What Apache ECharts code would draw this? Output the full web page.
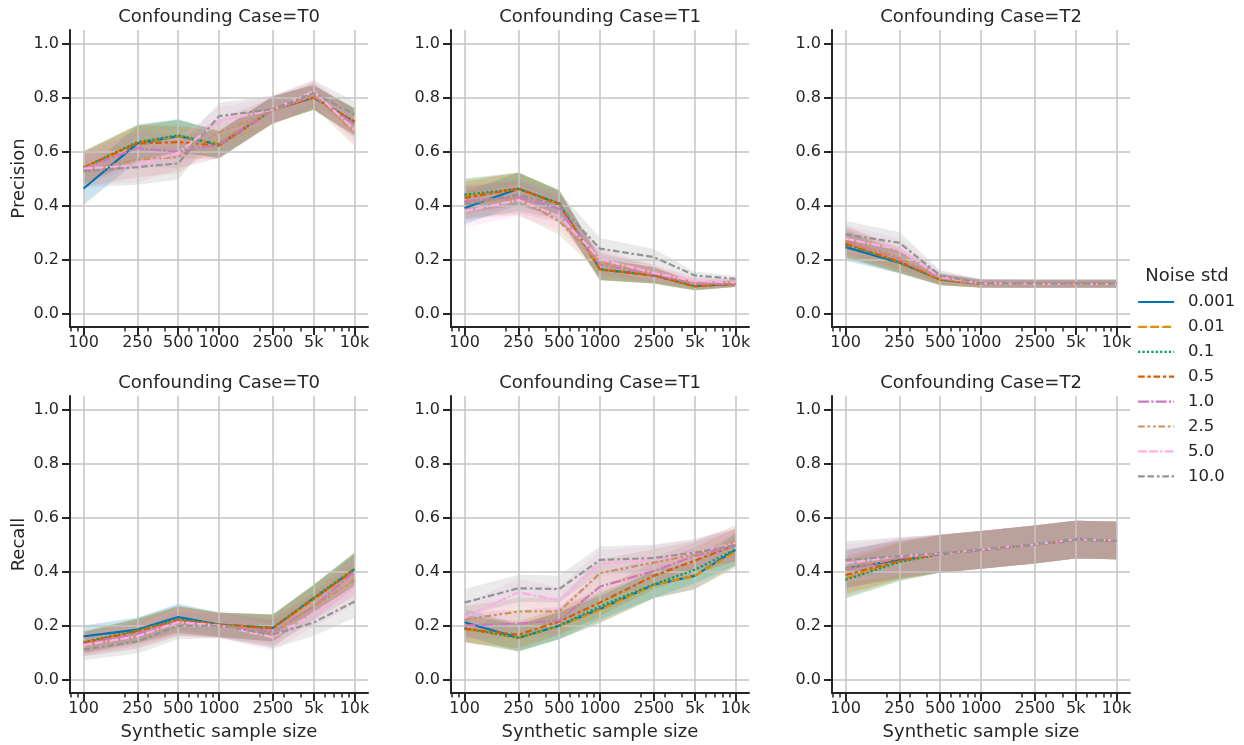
<!DOCTYPE html>
<html>
<head>
<meta charset="utf-8">
<script src="https://cdn.jsdelivr.net/npm/echarts@6/dist/echarts.min.js"></script>
<style>
html,body{margin:0;padding:0;background:#fff;}
#chart{width:1244px;height:745px;}
</style>
</head>
<body>
<div id="chart"></div>
<script>
// ---------------- data ----------------
const sampleSizes = [100, 250, 500, 1000, 2500, 5000, 10000];
const majorTicks = [100, 250, 500, 1000, 2500, 5000, 10000];
const majorTickLabels = ['100', '250', '500', '1000', '2500', '5k', '10k'];
const minorTicks = [80, 90, 200, 300, 400, 600, 700, 800, 900, 2000, 3000, 4000, 6000, 7000, 8000, 9000];
const yTicks = [0, 0.2, 0.4, 0.6, 0.8, 1.0];
const noiseLevels = ['0.001', '0.01', '0.1', '0.5', '1.0', '2.5', '5.0', '10.0'];
const caseNames = ['T0', 'T1', 'T2'];
const metricNames = ['Precision', 'Recall'];

// mean per noise level (rows) x sample size (cols)
const precisionT0 = [
  [0.463, 0.630, 0.657, 0.626, 0.755, 0.800, 0.709],
  [0.542, 0.633, 0.657, 0.628, 0.755, 0.800, 0.709],
  [0.540, 0.635, 0.660, 0.625, 0.755, 0.800, 0.710],
  [0.540, 0.630, 0.635, 0.622, 0.755, 0.800, 0.710],
  [0.537, 0.613, 0.598, 0.626, 0.755, 0.805, 0.700],
  [0.530, 0.570, 0.580, 0.670, 0.750, 0.810, 0.670],
  [0.537, 0.550, 0.595, 0.713, 0.755, 0.823, 0.681],
  [0.527, 0.542, 0.556, 0.731, 0.757, 0.817, 0.737]
];
const precisionT1 = [
  [0.391, 0.462, 0.406, 0.163, 0.141, 0.101, 0.110],
  [0.437, 0.460, 0.406, 0.163, 0.141, 0.100, 0.110],
  [0.440, 0.462, 0.408, 0.165, 0.142, 0.102, 0.111],
  [0.428, 0.462, 0.405, 0.163, 0.141, 0.101, 0.110],
  [0.416, 0.431, 0.388, 0.181, 0.145, 0.110, 0.110],
  [0.410, 0.425, 0.342, 0.187, 0.150, 0.115, 0.115],
  [0.379, 0.420, 0.360, 0.202, 0.150, 0.120, 0.115],
  [0.405, 0.440, 0.400, 0.240, 0.209, 0.141, 0.128]
];
const precisionT2 = [
  [0.246, 0.188, 0.126, 0.111, 0.110, 0.110, 0.110],
  [0.262, 0.190, 0.125, 0.110, 0.110, 0.110, 0.110],
  [0.255, 0.190, 0.125, 0.110, 0.110, 0.110, 0.110],
  [0.258, 0.192, 0.125, 0.110, 0.110, 0.110, 0.110],
  [0.270, 0.200, 0.130, 0.111, 0.110, 0.110, 0.110],
  [0.275, 0.205, 0.130, 0.111, 0.110, 0.110, 0.110],
  [0.277, 0.237, 0.135, 0.112, 0.110, 0.110, 0.110],
  [0.293, 0.262, 0.140, 0.113, 0.111, 0.111, 0.111]
];
const recallT0 = [
  [0.160, 0.185, 0.231, 0.203, 0.191, 0.301, 0.408],
  [0.138, 0.180, 0.221, 0.203, 0.191, 0.300, 0.410],
  [0.138, 0.182, 0.223, 0.203, 0.191, 0.302, 0.410],
  [0.136, 0.178, 0.220, 0.202, 0.190, 0.298, 0.405],
  [0.130, 0.170, 0.215, 0.200, 0.178, 0.270, 0.400],
  [0.125, 0.160, 0.210, 0.200, 0.170, 0.270, 0.369],
  [0.127, 0.160, 0.212, 0.200, 0.156, 0.246, 0.338],
  [0.111, 0.141, 0.199, 0.199, 0.166, 0.211, 0.289]
];
const recallT1 = [
  [0.212, 0.154, 0.199, 0.261, 0.351, 0.384, 0.480],
  [0.187, 0.154, 0.199, 0.258, 0.351, 0.384, 0.473],
  [0.190, 0.155, 0.200, 0.271, 0.353, 0.406, 0.482],
  [0.187, 0.166, 0.215, 0.285, 0.384, 0.440, 0.498],
  [0.200, 0.207, 0.219, 0.344, 0.402, 0.458, 0.495],
  [0.221, 0.252, 0.252, 0.394, 0.433, 0.462, 0.510],
  [0.230, 0.323, 0.293, 0.428, 0.445, 0.470, 0.505],
  [0.285, 0.338, 0.335, 0.443, 0.450, 0.470, 0.498]
];
const recallT2 = [
  [0.411, 0.443, 0.465, 0.480, 0.500, 0.519, 0.514],
  [0.375, 0.437, 0.465, 0.480, 0.500, 0.518, 0.515],
  [0.369, 0.435, 0.465, 0.480, 0.500, 0.518, 0.515],
  [0.387, 0.440, 0.466, 0.480, 0.500, 0.518, 0.515],
  [0.405, 0.450, 0.466, 0.480, 0.500, 0.518, 0.515],
  [0.410, 0.450, 0.466, 0.480, 0.500, 0.518, 0.515],
  [0.430, 0.457, 0.466, 0.481, 0.501, 0.519, 0.515],
  [0.443, 0.457, 0.467, 0.481, 0.501, 0.518, 0.514]
];

// confidence-interval half widths per sample size
const precisionT0Ci = [0.060, 0.065, 0.060, 0.050, 0.050, 0.045, 0.050];
const precisionT1Ci = [0.060, 0.060, 0.050, 0.040, 0.030, 0.015, 0.012];
const precisionT2Ci = [0.050, 0.040, 0.020, 0.015, 0.015, 0.015, 0.015];
const recallT0Ci = [0.040, 0.045, 0.050, 0.045, 0.050, 0.050, 0.060];
const recallT1Ci = [0.050, 0.050, 0.050, 0.050, 0.050, 0.050, 0.060];
const recallT2Ci = [0.070, 0.070, 0.070, 0.070, 0.070, 0.070, 0.070];

// ---------------- style ----------------
const FONT = 'DejaVu Sans';
const INK = '#262626';
const GRID_COLOR = '#c4c4c4';
const colors = ['#0173b2', '#de8f05', '#029e73', '#d55e00', '#cc78bc', '#ca9161', '#fbafe4', '#949494'];
const LW = 2.2;
const dashUnits = [
  null,
  [4, 1.5],
  [1, 1],
  [3, 1.25, 1.5, 1.25],
  [5, 1, 1, 1],
  [3, 1.25, 1.25, 1.25, 1.25, 1.25],
  [4, 1, 4, 1, 1, 1],
  [3, 1.25, 3, 1.25, 1.25, 1.25]
];
const lineTypes = dashUnits.map(d => d ? d.map(v => v * LW) : 'solid');

const colLeft = [70, 451, 832];
const rowTop = [30, 396];
const PANEL_W = 298, PANEL_H = 297;
const X_MIN = Math.pow(10, 1.9), X_MAX = Math.pow(10, 4.1);

const panels = [
  { metric: 0, cs: 0, means: precisionT0, ci: precisionT0Ci },
  { metric: 0, cs: 1, means: precisionT1, ci: precisionT1Ci },
  { metric: 0, cs: 2, means: precisionT2, ci: precisionT2Ci },
  { metric: 1, cs: 0, means: recallT0, ci: recallT0Ci },
  { metric: 1, cs: 1, means: recallT1, ci: recallT1Ci },
  { metric: 1, cs: 2, means: recallT2, ci: recallT2Ci }
];

function xLabel(v) {
  let best = 0;
  majorTicks.forEach((t, k) => { if (Math.abs(t - v) < Math.abs(majorTicks[best] - v)) best = k; });
  return majorTickLabels[best];
}

function bandRenderer(color) {
  return function (params, api) {
    if (params.dataIndexInside !== 0) return null;
    const n = params.dataInsideLength;
    const upper = [], lower = [];
    for (let k = 0; k < n; k++) {
      const x = api.value(0, k);
      upper.push(api.coord([x, api.value(2, k)]));
      lower.push(api.coord([x, api.value(1, k)]));
    }
    return {
      type: 'polygon', silent: true,
      shape: { points: upper.concat(lower.reverse()) },
      style: { fill: color, opacity: 0.2, stroke: null }
    };
  };
}

const grids = [], xAxes = [], yAxes = [], titles = [], bandSeries = [], lineSeries = [];

panels.forEach((p, i) => {
  const row = p.metric, col = p.cs;
  grids.push({ left: colLeft[col], top: rowTop[row], width: PANEL_W, height: PANEL_H, containLabel: false });
  xAxes.push({
    type: 'log', logBase: 10, gridIndex: i, min: X_MIN, max: X_MAX, position: 'bottom', zlevel: 1,
    axisLine: { show: true, onZero: false, lineStyle: { color: INK, width: 2 } },
    axisTick: { show: true, customValues: majorTicks, length: 8, lineStyle: { color: INK, width: 2 } },
    axisLabel: { show: true, customValues: majorTicks, formatter: xLabel, margin: 8,
      fontSize: 16, fontFamily: FONT, color: INK, hideOverlap: false },
    splitLine: { show: true, lineStyle: { color: GRID_COLOR, width: 1.5 } },
    name: row === 1 ? 'Synthetic sample size' : '', nameLocation: 'middle', nameGap: 30,
    nameTextStyle: { fontSize: 18, fontFamily: FONT, color: INK }
  });
  xAxes.push({
    type: 'log', logBase: 10, gridIndex: i, min: X_MIN, max: X_MAX, position: 'bottom', zlevel: 1,
    axisLine: { show: false, onZero: false },
    axisTick: { show: true, customValues: minorTicks, length: 4.5, lineStyle: { color: INK, width: 1.5 } },
    axisLabel: { show: false },
    splitLine: { show: false }
  });
  yAxes.push({
    type: 'value', gridIndex: i, min: -0.05, max: 1.05, zlevel: 1,
    axisLine: { show: true, onZero: false, lineStyle: { color: INK, width: 2 } },
    axisTick: { show: true, customValues: yTicks, length: 8, lineStyle: { color: INK, width: 2 } },
    axisLabel: { show: true, customValues: yTicks, formatter: v => Number(v).toFixed(1), margin: 11,
      fontSize: 16, fontFamily: FONT, color: INK },
    splitLine: { show: true, lineStyle: { color: GRID_COLOR, width: 1.5 } },
    name: col === 0 ? metricNames[row] : '', nameLocation: 'middle', nameGap: 42, nameRotate: 90,
    nameTextStyle: { fontSize: 18, fontFamily: FONT, color: INK }
  });
  titles.push({
    text: 'Confounding Case=' + caseNames[col],
    left: colLeft[col] + PANEL_W / 2, top: rowTop[row] - 22, textAlign: 'center', padding: 0,
    textStyle: { fontSize: 18, fontWeight: 'normal', fontFamily: FONT, color: INK, lineHeight: 18 }
  });

  noiseLevels.forEach((lvl, s) => {
    const mean = p.means[s];
    bandSeries.push({
      type: 'custom', name: lvl + ' ci', xAxisIndex: 2 * i, yAxisIndex: i,
      data: sampleSizes.map((x, k) => [x, mean[k] - p.ci[k], mean[k] + p.ci[k]]),
      encode: { x: 0, y: [1, 2] },
      renderItem: bandRenderer(colors[s]),
      silent: true, zlevel: 0, clip: true
    });
    lineSeries.push({
      type: 'line', name: lvl, xAxisIndex: 2 * i, yAxisIndex: i,
      data: sampleSizes.map((x, k) => [x, mean[k]]),
      symbol: 'none', showSymbol: false, zlevel: 2,
      itemStyle: { color: colors[s] },
      lineStyle: { color: colors[s], width: LW, type: lineTypes[s], cap: 'butt' }
    });
  });
});

titles.push({
  text: 'Noise std', left: 1187, top: 267, textAlign: 'center', padding: 0,
  textStyle: { fontSize: 18, fontWeight: 'normal', fontFamily: FONT, color: INK, lineHeight: 18 }
});

const chart = echarts.init(document.getElementById('chart'), null, { renderer: 'canvas' });
chart.setOption({
  animation: false,
  backgroundColor: '#ffffff',
  title: titles,
  legend: {
    data: noiseLevels, orient: 'vertical', left: 1137, top: 292, padding: 0,
    itemWidth: 36, itemHeight: 14, itemGap: 4.9, selectedMode: false,
    itemStyle: { opacity: 0 },
    lineStyle: { width: 2.2 },
    textStyle: { fontSize: 16.5, lineHeight: 20, fontFamily: FONT, color: INK, padding: [0, 0, 0, 9] }
  },
  grid: grids,
  xAxis: xAxes,
  yAxis: yAxes,
  series: bandSeries.concat(lineSeries)
});
</script>
</body>
</html>
